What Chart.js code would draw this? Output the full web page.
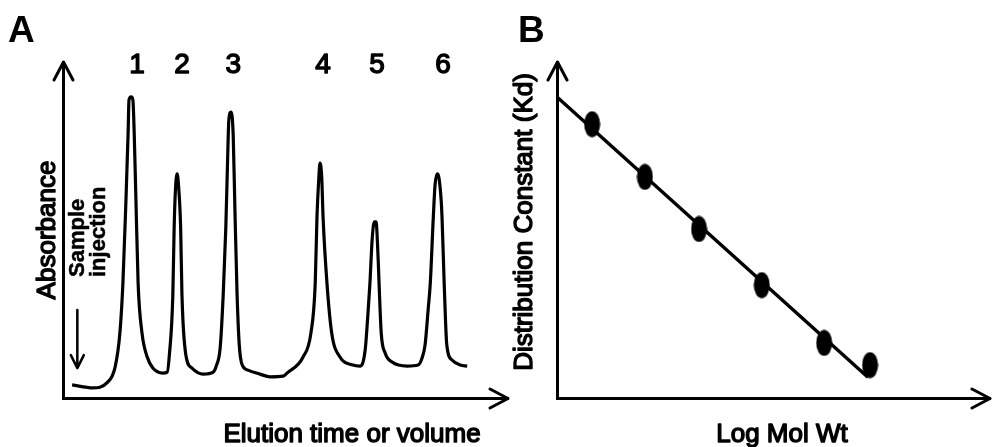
<!DOCTYPE html>
<html>
<head>
<meta charset="utf-8">
<title>Gel filtration chromatography</title>
<script src="https://cdn.jsdelivr.net/npm/chart.js@4.4.1/dist/chart.umd.min.js"></script>
<style>
  html, body { margin: 0; padding: 0; background: #fff; }
  #wrap { position: relative; width: 992px; height: 447px; overflow: hidden; }
  canvas { position: absolute; top: 0; }
  #chartA { left: 0; }
  #chartB { left: 500px; }
</style>
</head>
<body>
<div id="wrap">
  <canvas id="chartB" width="492" height="447"></canvas>
  <canvas id="chartA" width="516" height="447"></canvas>
</div>
<script>
/**
 * Panel A: elution profile (absorbance vs elution volume)
 * Panel B: calibration line, Kd vs log molecular weight
 */

// --- panel A data (arbitrary units) ---
const elutionVolume = [
  2.1, 6.9, 10.1, 12.0, 13.1, 13.8, 14.5, 15.0, 15.2, 15.7, 16.1, 16.4, 16.8, 17.3, 18.2, 19.4, 20.7, 23.0,
  24.0, 24.5, 25.3, 25.6, 25.9, 26.3, 26.6, 27.1, 27.4, 28.3, 29.7, 32.3, 34.6,
  35.3, 36.2, 36.9, 37.5, 37.9, 38.2, 38.7, 39.2, 39.6, 40.1, 40.6, 41.2, 42.6, 45.4, 47.7, 50.7,
  51.6, 55.3, 57.1, 58.1, 58.5, 58.9, 59.2, 59.6, 59.9, 60.8, 61.9, 63.8, 66.8,
  68.4, 69.6, 70.3, 70.7, 71.2, 71.7, 72.1, 72.6, 72.8, 73.3, 74.2, 75.8, 79.3,
  81.8, 82.7, 83.4, 84.1, 84.6, 85.3, 85.7, 86.2, 86.6, 87.1, 87.3, 87.8, 88.4, 89.6, 91.5, 93.1,
];
const absorbance = [
  0.039, 0.030, 0.045, 0.092, 0.193, 0.342, 0.589, 0.789, 0.887, 0.896, 0.887, 0.789, 0.589, 0.342, 0.193, 0.122, 0.089, 0.074,
  0.077, 0.128, 0.307, 0.506, 0.619, 0.667, 0.634, 0.506, 0.307, 0.128, 0.089, 0.071, 0.077,
  0.095, 0.149, 0.307, 0.506, 0.702, 0.827, 0.851, 0.783, 0.560, 0.307, 0.158, 0.101, 0.083, 0.071, 0.063, 0.065,
  0.074, 0.122, 0.193, 0.342, 0.539, 0.649, 0.699, 0.655, 0.539, 0.342, 0.193, 0.122, 0.098,
  0.095, 0.143, 0.262, 0.342, 0.470, 0.524, 0.524, 0.411, 0.342, 0.193, 0.134, 0.107, 0.095,
  0.098, 0.119, 0.158, 0.262, 0.342, 0.539, 0.634, 0.667, 0.655, 0.589, 0.539, 0.342, 0.158, 0.113, 0.098, 0.095,
];
const peakIds = ["1", "2", "3", "4", "5", "6"];
const peakLabelVolume = [17.05, 27.4, 39.2, 59.9, 72.35, 87.55];
const peakLabelLevel = 0.967;
const injectionVolume = 3.3;
const injectionArrow = [0.262, 0.089]; // from, to (absorbance units)

// --- panel B data ---
const calibLogMw = [8.1, 20.3, 32.8, 47.3, 61.7, 72.3];
const calibKd = [0.815, 0.658, 0.503, 0.336, 0.164, 0.098];
const fitLogMw = [0, 71.8];
const fitKd = [0.896, 0.062];

const FONT = "'Liberation Sans', Arial, Helvetica, sans-serif";
const INK = "#000";

/**
 * Draws a text label, optionally rotated to read bottom-to-top
 */
const labelText = (ctx, text, x, y, opts = {}) => {
  ctx.save();
  ctx.translate(x, y);
  if (opts.vertical) ctx.rotate(-Math.PI / 2);
  ctx.font = opts.font;
  ctx.textAlign = opts.align || "center";
  ctx.textBaseline = "alphabetic";
  ctx.fillStyle = INK;
  ctx.fillText(text, 0, 0);
  if (opts.stroke) {
    ctx.lineWidth = opts.stroke;
    ctx.strokeStyle = INK;
    ctx.lineJoin = "round";
    ctx.strokeText(text, 0, 0);
  }
  ctx.restore();
};

/**
 * Open arrow heads at the ends of both axes
 */
const axisArrows = (ctx, area) => {
  ctx.save();
  ctx.strokeStyle = INK;
  ctx.lineWidth = 3;
  ctx.lineCap = "round";
  ctx.lineJoin = "round";
  ctx.beginPath();
  ctx.moveTo(area.left - 9, area.top + 18);
  ctx.lineTo(area.left + 0.5, area.top);
  ctx.lineTo(area.left + 10, area.top + 18);
  ctx.moveTo(area.right - 18, area.bottom - 9);
  ctx.lineTo(area.right, area.bottom + 0.5);
  ctx.lineTo(area.right - 18, area.bottom + 10);
  ctx.stroke();
  ctx.restore();
};

const bareAxis = (min, max) => ({
  type: "linear",
  min,
  max,
  ticks: { display: false },
  grid: { display: false, drawTicks: false },
  border: { display: true, color: INK, width: 3 },
});

const baseOptions = (padding, xMax) => ({
  responsive: false,
  animation: false,
  devicePixelRatio: 1,
  layout: { padding, autoPadding: false },
  plugins: { legend: { display: false }, tooltip: { enabled: false } },
  scales: { x: bareAxis(0, xMax), y: bareAxis(0, 1) },
});

// Panel A decorations: arrows, peak numbers, injection marker, titles
const chromatogramDecor = {
  id: "chromatogramDecor",
  afterDraw(chart) {
    const { ctx, chartArea, scales } = chart;
    axisArrows(ctx, chartArea);

    peakIds.forEach((id, i) => {
      labelText(ctx, id, scales.x.getPixelForValue(peakLabelVolume[i]), scales.y.getPixelForValue(peakLabelLevel), {
        font: `28px ${FONT}`,
        stroke: 1.4,
      });
    });

    const ix = scales.x.getPixelForValue(injectionVolume);
    const iFrom = scales.y.getPixelForValue(injectionArrow[0]);
    const iTo = scales.y.getPixelForValue(injectionArrow[1]);
    ctx.save();
    ctx.strokeStyle = INK;
    ctx.lineWidth = 2.5;
    ctx.lineCap = "round";
    ctx.lineJoin = "round";
    ctx.beginPath();
    ctx.moveTo(ix, iFrom);
    ctx.lineTo(ix, iTo);
    ctx.moveTo(ix - 6.5, iTo - 13);
    ctx.lineTo(ix, iTo);
    ctx.lineTo(ix + 6.5, iTo - 13);
    ctx.stroke();
    ctx.restore();

    labelText(ctx, "Sample", chartArea.left + 21, 277, { vertical: true, align: "left", font: `bold 22px ${FONT}`, stroke: 0.5 });
    labelText(ctx, "injection", chartArea.left + 42, 277, { vertical: true, align: "left", font: `bold 22px ${FONT}`, stroke: 0.5 });

    labelText(ctx, "A", 8, 42, { align: "left", font: `bold 37px ${FONT}` });
    labelText(ctx, "Absorbance", chartArea.left - 8, 230, { vertical: true, font: `26px ${FONT}`, stroke: 1.4 });
    labelText(ctx, "Elution time or volume", 352, 442, { font: `26px ${FONT}`, stroke: 1.4 });
  },
};

// Panel B decorations
const calibrationDecor = {
  id: "calibrationDecor",
  afterDraw(chart) {
    const { ctx, chartArea } = chart;
    axisArrows(ctx, chartArea);
    labelText(ctx, "B", 18, 42, { align: "left", font: `bold 37px ${FONT}` });
    labelText(ctx, "Distribution Constant (Kd)", chartArea.left - 25, 222, {
      vertical: true,
      font: `26px ${FONT}`,
      stroke: 1.4,
    });
    labelText(ctx, "Log Mol Wt", 282, 442, { font: `26px ${FONT}`, stroke: 1.4 });
  },
};

/**
 * Filled ellipse used as the point marker in panel B
 */
const makeEllipseDot = (w, h) => {
  const c = document.createElement("canvas");
  c.width = w;
  c.height = h;
  const g = c.getContext("2d");
  g.fillStyle = INK;
  g.beginPath();
  g.ellipse(w / 2, h / 2, w / 2 - 0.5, h / 2 - 0.5, 0, 0, Math.PI * 2);
  g.fill();
  return c;
};

const toPoints = (xs, ys) => xs.map((x, i) => ({ x, y: ys[i] }));

new Chart(document.getElementById("chartA"), {
  type: "line",
  data: {
    datasets: [
      {
        data: toPoints(elutionVolume, absorbance),
        borderColor: INK,
        borderWidth: 3.2,
        pointRadius: 0,
        cubicInterpolationMode: "monotone",
        fill: false,
      },
    ],
  },
  options: baseOptions({ left: 63, top: 62, right: 8, bottom: 49 }, 102.5),
  plugins: [chromatogramDecor],
});

new Chart(document.getElementById("chartB"), {
  type: "line",
  data: {
    datasets: [
      {
        data: toPoints(fitLogMw, fitKd),
        borderColor: INK,
        borderWidth: 3.4,
        pointRadius: 0,
        fill: false,
      },
      {
        data: toPoints(calibLogMw, calibKd),
        showLine: false,
        pointStyle: makeEllipseDot(17, 27),
        pointRadius: 12,
        pointBackgroundColor: INK,
        pointBorderColor: INK,
      },
    ],
  },
  options: baseOptions({ left: 57, top: 62, right: 2, bottom: 49 }, 100),
  plugins: [calibrationDecor],
});
</script>
</body>
</html>
